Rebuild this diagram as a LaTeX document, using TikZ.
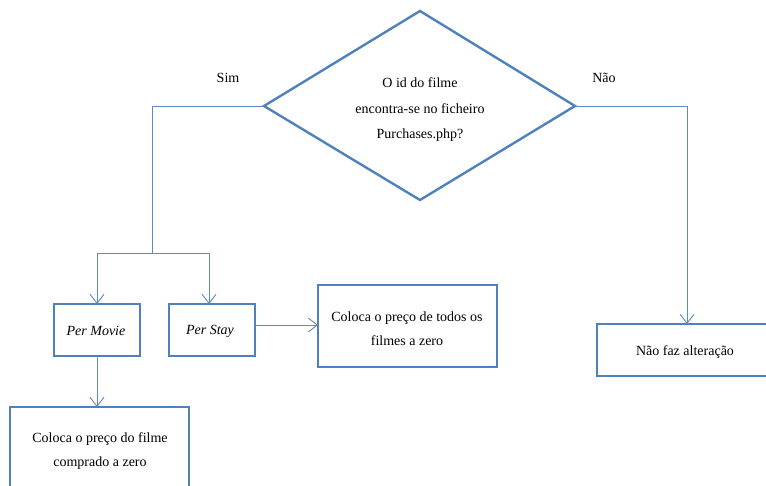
\documentclass[tikz,border=0pt]{standalone}
\usepackage{fontspec}
\setmainfont{Liberation Serif}
\usetikzlibrary{arrows.meta,shapes.geometric}
\definecolor{boxblue}{HTML}{4F81BD}
\definecolor{linkblue}{HTML}{5B8AC6}
\begin{document}
\begin{tikzpicture}[x=1pt,y=-1pt,
  every node/.style={font=\fontsize{14}{24}\selectfont, inner sep=0pt},
  stepbox/.style={draw=boxblue, line width=2.4pt, align=center},
  link/.style={draw=linkblue, line width=0.9pt,
    -{Straight Barb[length=9pt,width=14pt,line width=0.9pt]}},
  plain/.style={draw=linkblue, line width=0.9pt}]
  \useasboundingbox (0,0) rectangle (766,486);
  \begin{scope}
    \clip (0,0) rectangle (766,486);
    % decision
    \draw[boxblue, line width=2.4pt, line join=miter]
      (420,11) coordinate (dtop) -- (575,106) coordinate (dright)
      -- (420,200) coordinate (dbot) -- (264,106) coordinate (dleft) -- cycle;
    \node[align=center, font=\fontsize{14}{25.5}\selectfont] (q) at (420,110)
      {O id do filme\\encontra-se no ficheiro\\Purchases.php?};
    % boxes
    \draw[stepbox] (54,304) rectangle (140,356);
    \coordinate (movieN) at (97,304);
    \coordinate (movieS) at (97,356);
    \node (movie) at (96,331) {\itshape Per Movie};
    \draw[stepbox] (169,304) rectangle (255,356);
    \coordinate (stayN) at (209,304);
    \coordinate (stayE) at (255,325);
    \node (stay) at (210,331) {\itshape Per Stay};
    \draw[stepbox] (318,285) rectangle (497,367);
    \coordinate (allW) at (318,325);
    \node[align=center] (all) at (407,329) {Coloca o preço de todos os\\filmes a zero};
    \draw[stepbox] (10,407) rectangle (189,500);
    \coordinate (oneN) at (97,407);
    \node[align=center] (one) at (100,451) {Coloca o preço do filme\\comprado a zero};
    \draw[stepbox] (597,324) rectangle (775,376);
    \coordinate (noneN) at (687,324);
    \node (none) at (685,352) {Não faz alteração};
    % connectors
    \coordinate (split) at (152,253);
    \draw[plain] (dleft) -- (152,106) -- (split);
    \draw[link] (split) -- (97,253) -- (movieN);
    \draw[link] (split) -- (209,253) -- (stayN);
    \draw[link] (stayE) -- (allW);
    \draw[link] (movieS) -- (oneN);
    \draw[link] (dright) -- (687,106) -- (noneN);
    % branch labels
    \node (sim) at (228,78) {Sim};
    \node (nao) at (604,78) {Não};
  \end{scope}
\end{tikzpicture}
\end{document}
